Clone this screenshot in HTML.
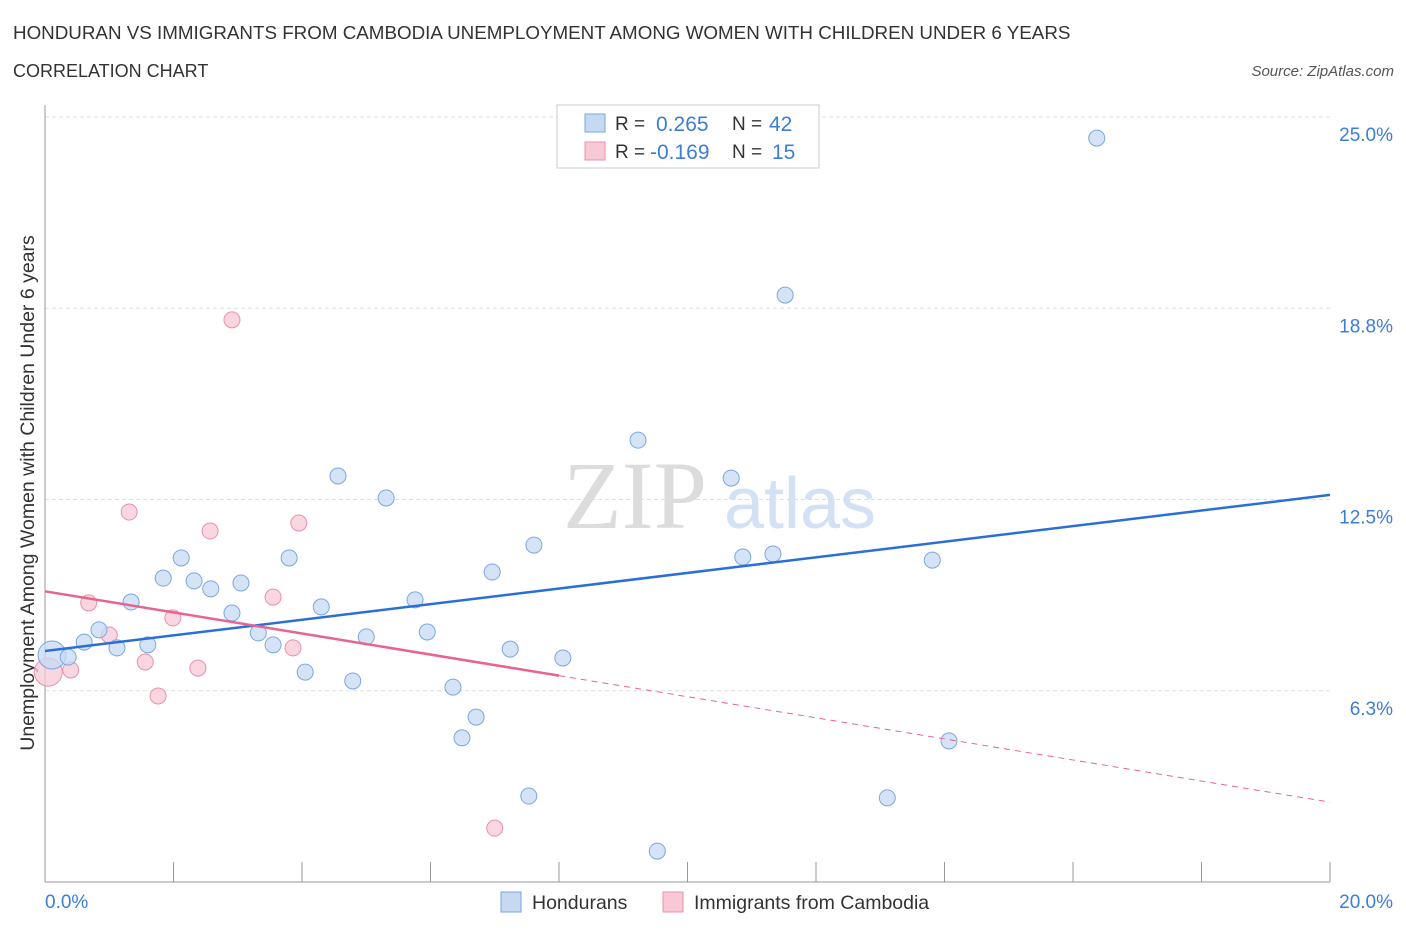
<!DOCTYPE html>
<html><head><meta charset="utf-8">
<style>
body{margin:0;background:#fff;font-family:"Liberation Sans",sans-serif;}
svg text{font-family:"Liberation Sans",sans-serif;}
</style></head>
<body>
<svg id="chart" width="1406" height="930" xmlns="http://www.w3.org/2000/svg">
<text x="13" y="39" font-size="18.8" fill="#333">HONDURAN VS IMMIGRANTS FROM CAMBODIA UNEMPLOYMENT AMONG WOMEN WITH CHILDREN UNDER 6 YEARS</text>
<text x="13" y="77" font-size="18" fill="#333">CORRELATION CHART</text>
<text x="1394" y="76" font-size="15" fill="#555" text-anchor="end" font-style="italic">Source: ZipAtlas.com</text>
<text x="635" y="528" font-size="96" fill="#dcdcdc" text-anchor="middle" style="font-family:'Liberation Serif',serif">ZIP</text>
<text x="800" y="528" font-size="72" fill="#d3e1f4" text-anchor="middle">atlas</text>
<text transform="translate(34,493) rotate(-90)" font-size="19.5" fill="#333" text-anchor="middle">Unemployment Among Women with Children Under 6 years</text>
<g id="grid"></g>
<g id="marks"></g>
<g>
<rect x="557" y="105" width="262" height="63" fill="#fff" stroke="#ccc"/>
<rect x="585" y="114" width="20" height="18" fill="#c5d9f3" stroke="#7aa7e0"/>
<rect x="585" y="142" width="20" height="18" fill="#f8c8d6" stroke="#e990ab"/>
<text x="615" y="130" font-size="19" fill="#333">R =</text><text x="656" y="131" font-size="21" fill="#3d7dd8">0.265</text>
<text x="732" y="130" font-size="19" fill="#333">N =</text><text x="769" y="131" font-size="21" fill="#3d7dd8">42</text>
<text x="615" y="158" font-size="19" fill="#333">R =</text><text x="650" y="159" font-size="21" fill="#3d7dd8">-0.169</text>
<text x="732" y="158" font-size="19" fill="#333">N =</text><text x="772" y="159" font-size="21" fill="#3d7dd8">15</text>
</g>
<g>
<rect x="501" y="892" width="20" height="20" fill="#c5d9f3" stroke="#7aa7e0"/>
<text x="532" y="909" font-size="19.5" fill="#333">Hondurans</text>
<rect x="663" y="892" width="20" height="20" fill="#f8c8d6" stroke="#e990ab"/>
<text x="694" y="909" font-size="19.5" fill="#333">Immigrants from Cambodia</text>
</g>
</svg>
<script>
const yTicks=[6.25,12.5,18.75,25];
const yTickLabels=["6.3%","12.5%","18.8%","25.0%"];
const xTicks=[0,2,4,6,8,10,12,14,16,18,20];
const blueX=[0.11,0.36,0.61,0.84,1.12,1.34,1.60,1.84,2.12,2.32,2.58,2.91,3.05,3.32,3.55,3.80,4.05,4.30,4.56,4.79,5.00,5.31,5.76,5.95,6.35,6.49,6.71,6.96,7.24,7.53,7.61,8.06,9.23,9.53,10.68,10.86,11.33,11.52,13.11,13.81,14.07,16.37];
const blueY=[7.42,7.35,7.84,8.24,7.65,9.15,7.75,9.93,10.59,9.84,9.58,8.79,9.77,8.14,7.75,10.59,6.86,8.99,13.27,6.57,8.01,12.55,9.22,8.17,6.37,4.71,5.39,10.13,7.61,2.81,11.01,7.32,14.44,1.01,13.20,10.62,10.72,19.18,2.75,10.52,4.61,24.31];
const pinkX=[0.05,0.40,0.68,1.00,1.31,1.56,1.76,1.99,2.38,2.57,2.91,3.55,3.86,3.95,7.00];
const pinkY=[6.86,6.93,9.12,8.07,12.09,7.19,6.08,8.63,6.99,11.47,18.37,9.31,7.65,11.73,1.76];
const blueTrend=[7.55,12.65];
const pinkTrend=[9.5,2.61];
const pinkSolidEnd=8;
const NS="http://www.w3.org/2000/svg";
const X=v=>45+v/20*1285;
const Y=v=>882-v*30.6;
function mk(tag,attrs,parent){const e=document.createElementNS(NS,tag);for(const k in attrs)e.setAttribute(k,attrs[k]);parent.appendChild(e);return e;}
const grid=document.getElementById('grid'),marks=document.getElementById('marks');
yTicks.forEach((t,i)=>{
 const l=mk('line',{x1:45,x2:1330,y1:Y(t),y2:Y(t),stroke:'#ddd','stroke-dasharray':'4,3'},grid);
 
 
 const tx=mk('text',{x:1393,y:Y(t)+24,'font-size':19,fill:'#3d7dd8','text-anchor':'end'},grid);
 tx.textContent=yTickLabels[i];
 
 
});
const ax=mk('line',{x1:45,x2:45,y1:105,y2:882,stroke:'#999'},grid);


const bx=mk('line',{x1:45,x2:1330,y1:882,y2:882,stroke:'#999'},grid);


xTicks.forEach(t=>{const l=mk('line',{x1:X(t),x2:X(t),y1:862,y2:882,stroke:'#999'},grid);
 
 });
const xl0=mk('text',{x:45,y:908,'font-size':19,fill:'#3d7dd8'},grid);xl0.textContent='0.0%';


const xl1=mk('text',{x:1393,y:908,'font-size':19,fill:'#3d7dd8','text-anchor':'end'},grid);xl1.textContent='20.0%';


pinkX.forEach((x,i)=>{const c=mk('circle',{cx:X(x),cy:Y(pinkY[i]),r:i==0?14:8,fill:'#f8c8d6','fill-opacity':0.75,stroke:'#e990ab','stroke-width':1},marks);
 
 });
blueX.forEach((x,i)=>{const c=mk('circle',{cx:X(x),cy:Y(blueY[i]),r:i==0?14:8,fill:'#c5d9f3','fill-opacity':0.75,stroke:'#7aa7e0','stroke-width':1},marks);
 
 });
const bl=mk('line',{x1:X(0),y1:Y(blueTrend[0]),x2:X(20),y2:Y(blueTrend[1]),stroke:'#2b6fd6','stroke-width':2.5},marks);


const pm=pinkTrend[0]+(pinkTrend[1]-pinkTrend[0])*pinkSolidEnd/20;
const pl=mk('line',{x1:X(0),y1:Y(pinkTrend[0]),x2:X(pinkSolidEnd),y2:Y(pm),stroke:'#e8648f','stroke-width':2.5},marks);


const pd=mk('line',{x1:X(pinkSolidEnd),y1:Y(pm),x2:X(20),y2:Y(pinkTrend[1]),stroke:'#e8648f','stroke-width':1,'stroke-dasharray':'6,5'},marks);


</script>
</body></html>
